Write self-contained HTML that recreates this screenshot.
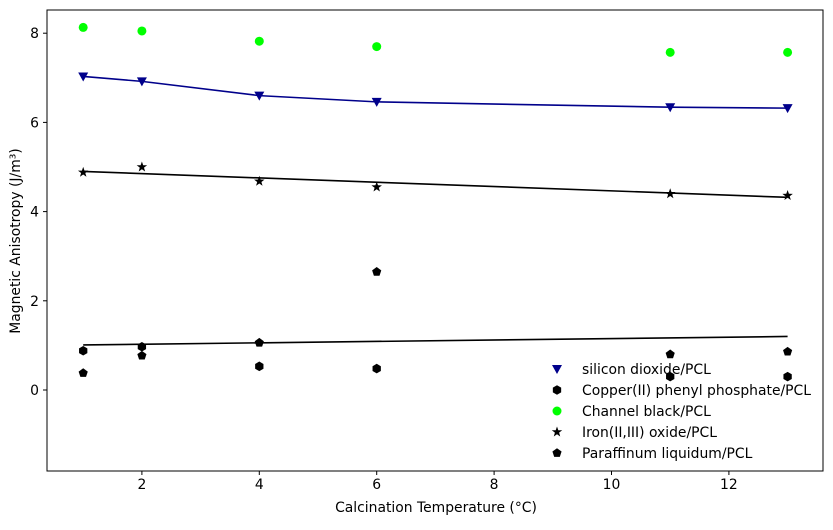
<!DOCTYPE html>
<html><head><meta charset="utf-8"><style>
body{margin:0;background:#fff;font-family:"Liberation Sans","DejaVu Sans",sans-serif}
svg text{font-family:"DejaVu Sans","Liberation Sans",sans-serif;font-size:13.9px}
</style></head><body>
<svg id="c" width="833" height="525"></svg>
<script>
const xs=[1,2,4,6,11,13];
const silicon=[7.03,6.92,6.6,6.46,6.34,6.32];
const siliconFit=[7.03,6.92,6.6,6.46,6.34,6.32];
const channel=[8.13,8.05,7.82,7.7,7.57,7.57];
const iron=[4.88,5.0,4.68,4.55,4.4,4.36];
const ironFit=[4.9,4.32];
const copper=[0.88,0.97,0.53,0.48,0.3,0.3];
const paraffin=[0.38,0.77,1.06,2.65,0.8,0.86];
const lowFit=[1.01,1.2];
const xTicks=[2,4,6,8,10,12];
const yTicks=[0,2,4,6,8];
const L=47,R=823,T=10,B=471;
const X=v=>24.5+v*58.7;
const Y=v=>390-v*44.6;
const svg=document.getElementById('c');
const NS='http://www.w3.org/2000/svg';
function mk(t,a,p){const e=document.createElementNS(NS,t);for(const k in a)e.setAttribute(k,a[k]);(p||svg).appendChild(e);return e;}
let fr=mk('rect',{x:L,y:T,width:R-L,height:B-T,fill:'none',stroke:'#000','stroke-width':1});


xTicks.forEach(v=>{mk('line',{x1:X(v),x2:X(v),y1:B,y2:B+4,stroke:'#000'});
const t=mk('text',{x:X(v),y:B+18,'text-anchor':'middle'});t.textContent=v;

});
yTicks.forEach(v=>{mk('line',{x1:L-4,x2:L,y1:Y(v),y2:Y(v),stroke:'#000'});
const t=mk('text',{x:L-8,y:Y(v)+5,'text-anchor':'end'});t.textContent=v;

});
let xt=mk('text',{x:436,y:512,'text-anchor':'middle'});xt.textContent='Calcination Temperature (°C)';


let yt=mk('text',{x:20,y:241,'text-anchor':'middle',transform:'rotate(-90 20 241)'});yt.textContent='Magnetic Anisotropy (J/m³)';


function line(pts,color,name){const l=mk('polyline',{points:pts.map(p=>X(p[0])+','+Y(p[1])).join(' '),fill:'none',stroke:color,'stroke-width':1.6});

}
line(xs.map((x,i)=>[x,siliconFit[i]]),'#00008b','silicon-fit-line');
line([[1,ironFit[0]],[13,ironFit[1]]],'#000','iron-fit-line');
line([[1,lowFit[0]],[13,lowFit[1]]],'#000','paraffin-fit-line');
function poly(n,r,rot){let s=[];for(let i=0;i<n;i++){const a=rot+i*2*Math.PI/n;s.push((r*Math.cos(a)).toFixed(2)+','+(r*Math.sin(a)).toFixed(2));}return s.join(' ');}
function star(r){let s=[];for(let i=0;i<10;i++){const a=-Math.PI/2+i*Math.PI/5;const rr=i%2?r*0.4:r;s.push((rr*Math.cos(a)).toFixed(2)+','+(rr*Math.sin(a)).toFixed(2));}return s.join(' ');}
const shapes={tri:'-5,-4 5,-4 0,5',hex:poly(6,4.8,Math.PI/2),pent:poly(5,4.8,-Math.PI/2),star:star(5.5)};
function marker(cx,cy,kind,color,name){let e;
if(kind==='circle')e=mk('circle',{cx:cx,cy:cy,r:4.5,fill:color});
else e=mk('polygon',{points:shapes[kind],fill:color,transform:`translate(${cx},${cy})`});

}
xs.forEach((x,i)=>{
marker(X(x),Y(silicon[i]),'tri','#00008b','silicon-point');
marker(X(x),Y(copper[i]),'hex','#000','copper-point');
marker(X(x),Y(channel[i]),'circle','#00ff00','channel-black-point');
marker(X(x),Y(iron[i]),'star','#000','iron-oxide-point');
marker(X(x),Y(paraffin[i]),'pent','#000','paraffin-point');});
const leg=[['tri','#00008b','silicon dioxide/PCL'],['hex','#000','Copper(II) phenyl phosphate/PCL'],['circle','#00ff00','Channel black/PCL'],['star','#000','Iron(II,III) oxide/PCL'],['pent','#000','Paraffinum liquidum/PCL']];
leg.forEach((l,i)=>{const y=369+i*21;marker(557,y,l[0],l[1],'legend-marker');
const t=mk('text',{x:582,y:y+5});t.textContent=l[2];

});
</script>
</body></html>
